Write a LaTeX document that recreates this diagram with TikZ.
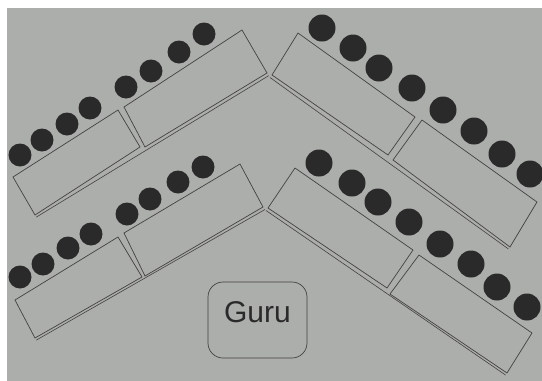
\documentclass[tikz,border=0pt]{standalone}
\usepackage{fontspec}
\setmainfont{Liberation Sans}
\definecolor{paper}{RGB}{172,174,171}
\definecolor{ink}{RGB}{66,66,66}
\definecolor{dotc}{RGB}{42,42,42}
\begin{document}
\begin{tikzpicture}[x=1pt,y=-1pt,
  desk/.style={draw=ink,line width=0.7pt,line join=miter},
  shadowline/.style={draw=ink,line width=0.6pt},
  seatS/.style={fill=dotc,draw=none},
]
\useasboundingbox (0,0) rectangle (542,381);
\fill[white] (0,0) rectangle (542,381);
\fill[paper] (7,8) rectangle (542,381);

% ---- upper-left arm
\draw[desk] (13,177) -- (118,110) -- (140,147) -- (35,215) -- cycle;
\draw[desk] (124,107) -- (242,30) -- (267,73) -- (145,147) -- cycle;
\draw[shadowline] (36.3,217.1) -- (268.8,75.6);
% ---- lower-left arm
\draw[desk] (15,300) -- (118,237) -- (142,277) -- (35,338) -- cycle;
\draw[desk] (124,233) -- (240,164) -- (263,207) -- (145,276) -- cycle;
\draw[shadowline] (36.3,340.1) -- (265,209.5);
% ---- upper-right arm
\draw[desk] (298,33) -- (415,117) -- (388,155) -- (272,75) -- cycle;
\draw[desk] (422,120) -- (537,202) -- (510,247) -- (393,160) -- cycle;
\draw[shadowline] (270,77.5) -- (508.5,249);
% ---- lower-right arm
\draw[desk] (295,168) -- (413,250) -- (387,288) -- (268,208) -- cycle;
\draw[desk] (419,255) -- (532,333) -- (507,373) -- (390,294) -- cycle;
\draw[shadowline] (266,210.5) -- (505.5,375);

% ---- seats
\foreach \p in {(20,155),(42,140),(67,124),(90,108),(126,87),(151,71),(179,52),(204,34),
                (20,277),(43,264),(68,248),(91,234),(127,214),(150,199),(178,182),(203,167)}
  \fill[seatS] \p circle (11.5);
\foreach \p in {(322,28),(353,48),(379,68),(412,88),(443,110),(474,131),(502,154),(530,174),
                (319,163),(352,183),(378,202),(409,222),(440,244),(471,264),(497,287),(527,307)}
  \fill[seatS] \p circle (13.5);

% ---- teacher
\node[draw=ink,line width=0.7pt,rounded corners=15pt,minimum width=99pt,minimum height=76pt,
      text height=21pt,text depth=17pt,inner sep=0pt,text=dotc,
      font=\fontsize{30}{32}\selectfont] (guru) at (257.5,320) {Guru};
\end{tikzpicture}
\end{document}
